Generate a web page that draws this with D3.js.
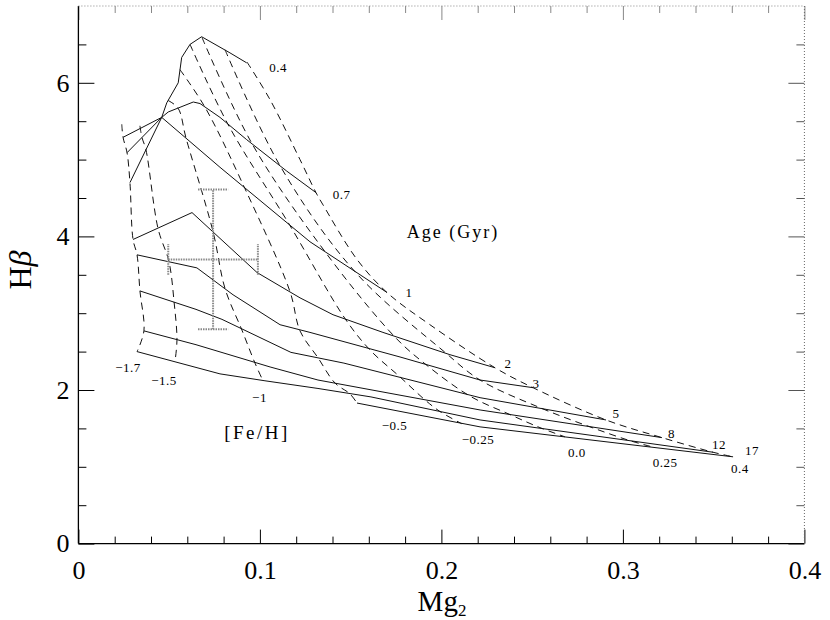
<!DOCTYPE html>
<html>
<head>
<meta charset="utf-8">
<script src="https://cdn.jsdelivr.net/npm/d3@7"></script>
<style>
body { margin: 0; background: #fff; }
svg text { font-family: "Liberation Serif", "DejaVu Serif", serif; fill: #000; }
</style>
</head>
<body>
<svg id="chart" width="830" height="620"></svg>
<script>
//Global config
var graphWidth = 830;
var graphHeight = 620;
var plotLeft = 78.4, plotRight = 804.4, plotTop = 6, plotBottom = 543.6;
var serif = '"Liberation Serif", "DejaVu Serif", serif';

//Tick values
var xMajorTicks = [0, 0.1, 0.2, 0.3, 0.4];
var yMajorTicks = [0, 2, 4, 6];

//Labels
var ageLabels = ["0.4", "0.7", "1", "2", "3", "5", "8", "12", "17"];
var fehLabels = ["\u22121.7", "\u22121.5", "\u22121", "\u22120.5", "\u22120.25", "0.0", "0.25", "0.4"];

//Isochrones (solid)
var age04Mg2 = [0.0246, 0.0459, 0.0487, 0.0550, 0.0569, 0.0615, 0.0679, 0.0835, 0.0927];
var age04Hb  = [5.29, 5.55, 5.74, 6.00, 6.33, 6.50, 6.60, 6.39, 6.26];
var age07Mg2 = [0.0268, 0.0459, 0.0495, 0.0633, 0.0670, 0.0780, 0.0927, 0.1148, 0.1309];
var age07Hb  = [5.09, 5.55, 5.62, 5.75, 5.73, 5.55, 5.26, 4.85, 4.57];
var age1Mg2  = [0.0284, 0.0459, 0.0780, 0.1276, 0.1700];
var age1Hb   = [4.70, 5.55, 4.90, 3.93, 3.27];
var age2Mg2  = [0.0301, 0.0626, 0.0984, 0.1221, 0.1403, 0.1678, 0.2047, 0.2295];
var age2Hb   = [3.96, 4.31, 3.53, 3.20, 2.98, 2.75, 2.46, 2.29];
var age3Mg2  = [0.0323, 0.0653, 0.0852, 0.1111, 0.1276, 0.1772, 0.2213, 0.2505];
var age3Hb   = [3.76, 3.59, 3.24, 2.85, 2.75, 2.43, 2.13, 2.03];
var age5Mg2  = [0.0339, 0.0648, 0.0791, 0.1171, 0.1463, 0.2213, 0.2907];
var age5Hb   = [3.29, 3.05, 2.92, 2.49, 2.35, 1.90, 1.61];
var age8Mg2  = [0.0361, 0.0648, 0.1056, 0.1320, 0.2213, 0.3215];
var age8Hb   = [2.77, 2.59, 2.30, 2.13, 1.74, 1.38];
var age12Mg2 = [0.0323, 0.0780, 0.1028, 0.1320, 0.1612, 0.2213, 0.3496];
var age12Hb  = [2.50, 2.21, 2.12, 2.02, 1.91, 1.61, 1.19];
var age17Mg2 = [0.1535, 0.2213, 0.3607];
var age17Hb  = [1.83, 1.52, 1.13];

//Constant [Fe/H] tracks (dashed), young at top to old at bottom
var fehM17Mg2  = [0.0239, 0.0246, 0.0268, 0.0284, 0.0301, 0.0323, 0.0339, 0.0361, 0.0323];
var fehM17Hb   = [5.46, 5.29, 5.09, 4.70, 3.96, 3.76, 3.29, 2.77, 2.50];
var fehM15Mg2  = [0.0339, 0.0350, 0.0372, 0.0439, 0.0499, 0.0527, 0.0543, 0.0532];
var fehM15Hb   = [5.44, 5.29, 5.13, 4.10, 3.67, 3.15, 2.65, 2.37];
var fehM10Mg2  = [0.0494, 0.0549, 0.0593, 0.0742, 0.0808, 0.0901, 0.0973, 0.1017];
var fehM10Hb   = [5.77, 5.67, 5.28, 4.06, 3.32, 2.78, 2.35, 2.12];
var fehM05Mg2  = [0.0560, 0.0698, 0.0918, 0.1166, 0.1221, 0.1320, 0.1414, 0.1496, 0.1535];
var fehM05Hb   = [6.17, 5.68, 4.62, 3.28, 2.77, 2.42, 2.09, 1.95, 1.83];
var fehM025Mg2 = [0.0615, 0.0824, 0.1166, 0.1469, 0.1607, 0.1772, 0.1910, 0.1992, 0.2113];
var fehM025Hb  = [6.50, 5.46, 4.14, 2.93, 2.52, 2.17, 1.87, 1.72, 1.56];
var feh00Mg2   = [0.0681, 0.0956, 0.1359, 0.1744, 0.1910, 0.2158, 0.2378, 0.2543, 0.2681];
var feh00Hb    = [6.59, 5.21, 3.80, 2.69, 2.34, 1.92, 1.68, 1.51, 1.39];
var feh025Mg2  = [0.0808, 0.1111, 0.1524, 0.2020, 0.2213, 0.2543, 0.2819, 0.3039, 0.3177];
var feh025Hb   = [6.43, 4.92, 3.54, 2.49, 2.13, 1.77, 1.52, 1.34, 1.25];
var feh04Mg2   = [0.0929, 0.1056, 0.1221, 0.1309, 0.1348, 0.1535, 0.1700, 0.1937, 0.2295, 0.2505, 0.2907, 0.3215, 0.3496, 0.3607];
var feh04Hb    = [6.27, 5.78, 5.00, 4.57, 4.41, 3.70, 3.27, 2.85, 2.29, 2.03, 1.61, 1.38, 1.19, 1.13];

//Where the age and [Fe/H] numbers sit (data units)
var ageTextMg2 = [0.1100, 0.1450, 0.1821, 0.2367, 0.2521, 0.2962, 0.3268, 0.3530, 0.3711];
var ageTextHb  = [6.20, 4.55, 3.27, 2.35, 2.09, 1.70, 1.44, 1.29, 1.21];
var fehTextMg2 = [0.0273, 0.0472, 0.0998, 0.1742, 0.2202, 0.2747, 0.3232, 0.3645];
var fehTextHb  = [2.29, 2.13, 1.90, 1.54, 1.35, 1.19, 1.05, 0.98];

//Error bar of the observed point
var errMg2 = [0.0742];
var errHb = [3.70];
var errMg2Size = [0.0247];
var errHbSize = [0.91];

var svg = d3.select("#chart");
var x = d3.scaleLinear().domain([0, 0.4]).range([plotLeft, plotRight]);
var y = d3.scaleLinear().domain([0, 7]).range([plotBottom, plotTop]);

drawAxes();
drawGrid();
drawErrorBar();
drawLabels();

function drawAxes() {
    var xMinor = d3.range(1, 20).filter(function(i){ return i % 5; }).map(function(i){ return i * 0.02; });
    var yMinor = d3.range(1, 14).filter(function(i){ return i % 4; }).map(function(i){ return i * 0.5; });
    var fmtX = function(d){ return d === 0 ? "0" : d3.format(".1f")(d); };

    //bottom
    svg.append("g").attr("transform", "translate(0," + y(0) + ")")
        .call(d3.axisBottom(x).tickValues(xMinor).tickSize(-7).tickFormat(""))
        .call(function(g){ g.select(".domain").remove(); });
    svg.append("g").attr("class", "axis").attr("transform", "translate(0," + y(0) + ")")
        .call(d3.axisBottom(x).tickValues(xMajorTicks).tickSize(-14).tickPadding(17).tickFormat(fmtX))
        .call(function(g){ g.select(".domain").remove(); });
    //top
    svg.append("g").attr("transform", "translate(0," + y(7) + ")").attr("color", "#888")
        .call(d3.axisTop(x).tickValues(xMinor).tickSize(-7).tickFormat(""))
        .call(function(g){ g.select(".domain").remove(); });
    svg.append("g").attr("transform", "translate(0," + y(7) + ")").attr("color", "#888")
        .call(d3.axisTop(x).tickValues(xMajorTicks).tickSize(-14).tickFormat(""))
        .call(function(g){ g.select(".domain").remove(); });
    //left
    svg.append("g").attr("transform", "translate(" + x(0) + ",0)")
        .call(d3.axisLeft(y).tickValues(yMinor).tickSize(-8).tickFormat(""))
        .call(function(g){ g.select(".domain").remove(); });
    svg.append("g").attr("class", "axis").attr("transform", "translate(" + x(0) + ",0)")
        .call(d3.axisLeft(y).tickValues(yMajorTicks).tickSize(-16).tickPadding(9).tickFormat(d3.format("d")))
        .call(function(g){ g.select(".domain").remove(); });
    //right
    svg.append("g").attr("transform", "translate(" + x(0.4) + ",0)").attr("color", "#555")
        .call(d3.axisRight(y).tickValues(yMinor).tickSize(-8).tickFormat(""))
        .call(function(g){ g.select(".domain").remove(); });
    svg.append("g").attr("transform", "translate(" + x(0.4) + ",0)").attr("color", "#555")
        .call(d3.axisRight(y).tickValues(yMajorTicks).tickSize(-16).tickFormat(""))
        .call(function(g){ g.select(".domain").remove(); });

    svg.selectAll(".axis text")
        .style("font-family", serif)
        .style("font-size", "26px");

    //frame: left and bottom solid, top and right dotted
    svg.append("line").attr("x1", x(0)).attr("y1", y(0)).attr("x2", x(0)).attr("y2", y(7))
        .attr("stroke", "#000").attr("stroke-width", 1.3);
    svg.append("line").attr("x1", x(0)).attr("y1", y(0)).attr("x2", x(0.4)).attr("y2", y(0))
        .attr("stroke", "#000").attr("stroke-width", 1.3);
    svg.append("line").attr("x1", x(0)).attr("y1", y(7)).attr("x2", x(0.4)).attr("y2", y(7))
        .attr("stroke", "#888").attr("stroke-dasharray", "1,2");
    svg.append("line").attr("x1", x(0.4)).attr("y1", y(7)).attr("x2", x(0.4)).attr("y2", y(0))
        .attr("stroke", "#666").attr("stroke-dasharray", "1,2");
}

function drawGrid() {
    var line = d3.line().x(function(d){ return x(d[0]); }).y(function(d){ return y(d[1]); });
    var dashLine = d3.line().x(function(d){ return x(d[0]); }).y(function(d){ return y(d[1]); })
        .curve(d3.curveCatmullRom.alpha(0.5));

    var isochrones = [
        d3.zip(age04Mg2, age04Hb), d3.zip(age07Mg2, age07Hb), d3.zip(age1Mg2, age1Hb),
        d3.zip(age2Mg2, age2Hb), d3.zip(age3Mg2, age3Hb), d3.zip(age5Mg2, age5Hb),
        d3.zip(age8Mg2, age8Hb), d3.zip(age12Mg2, age12Hb), d3.zip(age17Mg2, age17Hb)
    ];
    var tracks = [
        d3.zip(fehM17Mg2, fehM17Hb), d3.zip(fehM15Mg2, fehM15Hb), d3.zip(fehM10Mg2, fehM10Hb),
        d3.zip(fehM05Mg2, fehM05Hb), d3.zip(fehM025Mg2, fehM025Hb), d3.zip(feh00Mg2, feh00Hb),
        d3.zip(feh025Mg2, feh025Hb), d3.zip(feh04Mg2, feh04Hb)
    ];

    svg.append("g").selectAll("path").data(tracks).enter().append("path")
        .attr("class", "track")
        .attr("d", dashLine)
        .attr("fill", "none").attr("stroke", "#111").attr("stroke-width", 1)
        .attr("stroke-dasharray", "7,5");

    svg.append("g").selectAll("path").data(isochrones).enter().append("path")
        .attr("class", "isochrone")
        .attr("d", line)
        .attr("fill", "none").attr("stroke", "#111").attr("stroke-width", 1);
}

function drawErrorBar() {
    var g = svg.append("g").attr("stroke", "#888").attr("stroke-width", 2).attr("stroke-dasharray", "1.5,1");
    var cx = errMg2[0], cy = errHb[0], ex = errMg2Size[0], ey = errHbSize[0];
    var capX = 0.0083, capY = 0.2;
    //vertical bar + caps
    g.append("line").attr("x1", x(cx)).attr("x2", x(cx)).attr("y1", y(cy - ey)).attr("y2", y(cy + ey));
    g.append("line").attr("x1", x(cx - capX)).attr("x2", x(cx + capX)).attr("y1", y(cy + ey)).attr("y2", y(cy + ey));
    g.append("line").attr("x1", x(cx - capX)).attr("x2", x(cx + capX)).attr("y1", y(cy - ey)).attr("y2", y(cy - ey));
    //horizontal bar + caps
    g.append("line").attr("x1", x(cx - ex)).attr("x2", x(cx + ex)).attr("y1", y(cy)).attr("y2", y(cy));
    g.append("line").attr("x1", x(cx - ex)).attr("x2", x(cx - ex)).attr("y1", y(cy - capY)).attr("y2", y(cy + capY));
    g.append("line").attr("x1", x(cx + ex)).attr("x2", x(cx + ex)).attr("y1", y(cy - capY)).attr("y2", y(cy + capY));
}

function drawLabels() {
    ageLabels.forEach(function(t, i){
        svg.append("text")
            .attr("x", x(ageTextMg2[i])).attr("y", y(ageTextHb[i]))
            .attr("text-anchor", "middle").attr("dominant-baseline", "central")
            .style("font-size", "13px").style("letter-spacing", "0.5px")
            .text(t);
    });
    fehLabels.forEach(function(t, i){
        svg.append("text")
            .attr("x", x(fehTextMg2[i])).attr("y", y(fehTextHb[i]))
            .attr("text-anchor", "middle").attr("dominant-baseline", "central")
            .style("font-size", "13px").style("letter-spacing", "0.5px")
            .text(t);
    });

    svg.append("text").attr("x", x(0.2064)).attr("y", y(4.06))
        .attr("text-anchor", "middle").attr("dominant-baseline", "central")
        .style("font-size", "18px").style("letter-spacing", "2px")
        .text("Age (Gyr)");
    svg.append("text").attr("x", x(0.0984)).attr("y", y(1.45))
        .attr("text-anchor", "middle").attr("dominant-baseline", "central")
        .style("font-size", "19px").style("letter-spacing", "2.5px")
        .text("[Fe/H]");

    //axis titles
    var xt = svg.append("text").attr("x", 442).attr("y", 611)
        .attr("text-anchor", "middle").style("font-size", "29px");
    xt.append("tspan").text("Mg");
    xt.append("tspan").attr("dy", 5).style("font-size", "17px").text("2");

    var yt = svg.append("text").attr("transform", "translate(20,270) rotate(-90)")
        .attr("text-anchor", "middle").attr("dy", "0.35em").style("font-size", "32px");
    yt.append("tspan").text("H");
    yt.append("tspan").style("font-style", "italic").text("\u03b2");
}
</script>
</body>
</html>
